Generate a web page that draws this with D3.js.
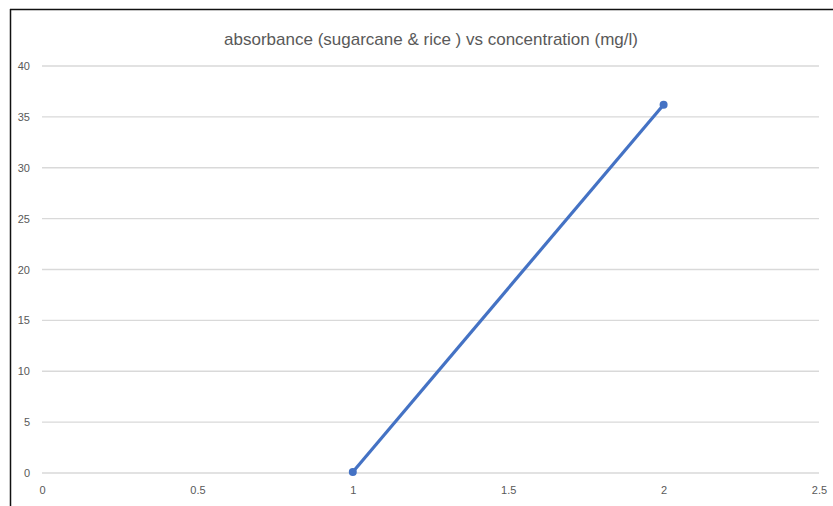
<!DOCTYPE html>
<html lang="en">
<head>
    <meta charset="UTF-8">
    <title>absorbance vs concentration</title>
    <script src="https://d3js.org/d3.v7.min.js"></script>
    <style>
        body { margin: 0; background: #fff; }
        text { font-family: "Liberation Sans Narrow", "Liberation Sans", sans-serif; }
        .grid line { stroke: #d9d9d9; stroke-width: 1.3; }
        .domain { display: none; }
    </style>
</head>
<body>
<script>
// Data
const concentration = [1, 2];
const absorbance = [0.1, 36.2];
const xTicks = [0, 0.5, 1, 1.5, 2, 2.5];
const yTicks = [0, 5, 10, 15, 20, 25, 30, 35, 40];
const title = "absorbance (sugarcane & rice ) vs concentration (mg/l)";

const W = 833, H = 506;
const margin = {top: 66, right: 14, bottom: 33, left: 42};

const svg = d3.select("body").append("svg")
    .attr("width", W)
    .attr("height", H);

// frame lines (top and left edges of the screenshot)
svg.append("line").attr("x1", 10).attr("x2", W).attr("y1", 9.5).attr("y2", 9.5)
    .attr("stroke", "#111").attr("stroke-width", 1.5);
svg.append("line").attr("x1", 10.5).attr("x2", 10.5).attr("y1", 9).attr("y2", H)
    .attr("stroke", "#111").attr("stroke-width", 1.5);

const x = d3.scaleLinear().domain([0, 2.5]).range([margin.left, 819]);
const y = d3.scaleLinear().domain([0, 40]).range([473, margin.top]);

// gridlines
svg.append("g").attr("class", "grid")
    .selectAll("line")
    .data(yTicks)
    .join("line")
    .attr("x1", x(0))
    .attr("x2", x(2.5))
    .attr("y1", d => y(d))
    .attr("y2", d => y(d));

// y axis labels
const yAxis = svg.append("g")
    .attr("transform", `translate(${x(0) - 8},0)`)
    .call(d3.axisLeft(y).tickValues(yTicks).tickSize(0).tickPadding(4));
yAxis.selectAll("text").style("font-size", "11px").style("fill", "#595959");

// x axis labels
const xAxis = svg.append("g")
    .attr("transform", `translate(0,${y(0) + 11})`)
    .call(d3.axisBottom(x).tickValues(xTicks).tickSize(0).tickPadding(2)
        .tickFormat(d3.format("")));
xAxis.selectAll("text").style("font-size", "11px").style("fill", "#595959");

// line
const pts = concentration.map((c, i) => [c, absorbance[i]]);
svg.append("path")
    .datum(pts)
    .attr("fill", "none")
    .attr("stroke", "#4472c4")
    .attr("stroke-width", 3.2)
    .attr("d", d3.line().x(d => x(d[0])).y(d => y(d[1])));

svg.selectAll(".dot")
    .data(pts)
    .join("circle")
    .attr("class", "dot")
    .attr("cx", d => x(d[0]))
    .attr("cy", d => y(d[1]))
    .attr("r", 4)
    .attr("fill", "#4472c4");

// title
svg.append("text")
    .attr("x", 431)
    .attr("y", 45)
    .attr("text-anchor", "middle")
    .style("font-size", "17px")
    .style("fill", "#595959")
    .text(title);
</script>
</body>
</html>
